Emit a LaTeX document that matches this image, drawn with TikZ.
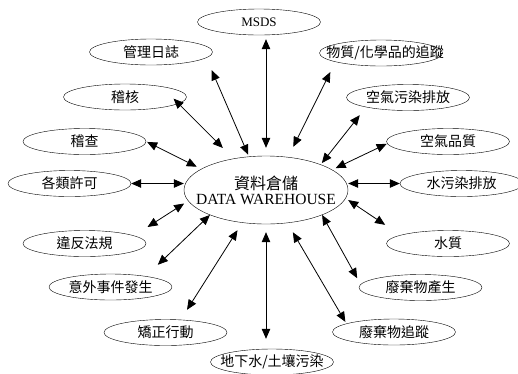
\documentclass[tikz,border=0pt]{standalone}
\usepackage{fontspec}
\setmainfont{Liberation Serif}
\newfontfamily\cjk{Noto Sans CJK TC}
\usetikzlibrary{arrows.meta,shapes.geometric}
\newcommand{\nowidth}[1]{\makebox[0pt]{#1}}

\begin{document}
\begin{tikzpicture}[
  x=1pt,y=-1pt,
  leaf/.style={draw,ellipse,minimum width=123pt,minimum height=26pt,inner sep=0pt,font=\cjk\fontsize{14}{16}\selectfont},
  hub/.style={draw,ellipse,minimum width=164pt,minimum height=68pt,inner sep=0pt,align=center,font=\fontsize{15.5}{23}\selectfont},
  arr/.style={{Triangle[length=10pt,width=8.5pt]}-{Triangle[length=10pt,width=8.5pt]},line width=0.8pt}
]
\useasboundingbox (0,0) rectangle (518,373);
\node[hub] (dw) at (266,190) {\nowidth{\cjk\fontsize{16}{23}\selectfont 資料倉儲}\\[-8pt]\nowidth{DATA WAREHOUSE}};
\node[leaf,font=\fontsize{13}{15}\selectfont] (msds) at (259,22) {MSDS};
\node[leaf] (mgmt) at (151,52) {管理日誌};
\node[leaf] (audit) at (125,97) {稽核};
\node[leaf] (inspect) at (84.5,141.5) {稽查};
\node[leaf] (permit) at (69.5,183.5) {各類許可};
\node[leaf] (violate) at (84.5,243.5) {違反法規};
\node[leaf] (incident) at (110.5,287) {意外事件發生};
\node[leaf] (correct) at (165.5,332.5) {矯正行動};
\node[leaf] (ground) at (272,362) {\nowidth{地下水/土壤污染}};
\node[leaf] (chem) at (381,53) {\nowidth{\hspace{8pt}物質/化學品的追蹤}};
\node[leaf] (airemit) at (408,97.5) {空氣污染排放};
\node[leaf] (airq) at (448,141.5) {空氣品質};
\node[leaf] (wateremit) at (461.5,183.5) {水污染排放};
\node[leaf] (waterq) at (448,243.5) {水質};
\node[leaf] (wastegen) at (420.5,287.5) {廢棄物產生};
\node[leaf] (wastetrack) at (394,332) {廢棄物追蹤};
\draw[arr,shorten <=4pt,shorten >=8pt] (msds.south -| dw.north) -- (dw.north);
\draw[arr,shorten <=13.5pt,shorten >=2pt] (mgmt.-6) -- (dw.117);
\draw[arr,shorten <=-7pt,shorten >=15pt] (audit.-7) -- (dw.136);
\draw[arr,shorten <=1pt,shorten >=5pt] (inspect.east) -- (dw.162);
\draw[arr] (permit.east) -- (permit.east -| dw.west);
\draw[arr,shorten <=16pt,shorten >=4.7pt] (violate.9) -- (dw.188);
\draw[arr,shorten <=16.5pt] (incident.17) -- (dw.204);
\draw[arr,shorten <=11.7pt,shorten >=8.8pt] (correct.40) -- (dw.234);
\draw[arr,shorten <=8pt,shorten >=10pt] (dw.south) -- (dw.south |- ground.north);
\draw[arr,shorten <=11.3pt,shorten >=11.4pt] (chem.191) -- (dw.56);
\draw[arr,shorten <=10.2pt,shorten >=1.8pt] (airemit.193) -- (dw.25);
\draw[arr,shorten <=0.5pt,shorten >=3.8pt] (airq.182) -- (dw.17);
\draw[arr] (wateremit.west) -- (wateremit.west -| dw.east);
\draw[arr,shorten <=18.4pt,shorten >=3pt] (waterq.170) -- (dw.-6);
\draw[arr,shorten <=7pt] (wastegen.177) -- (dw.-24);
\draw[arr,shorten <=2pt,shorten >=10.7pt] (wastetrack.170) -- (dw.-57);
\end{tikzpicture}
\end{document}
